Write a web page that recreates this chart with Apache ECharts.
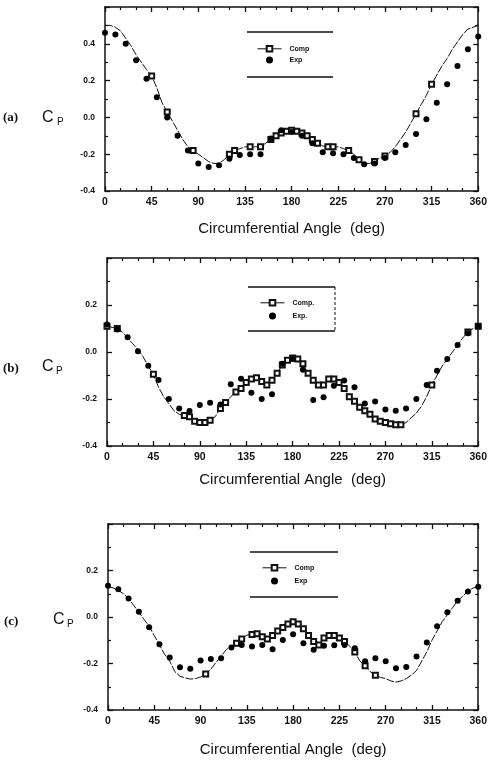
<!DOCTYPE html>
<html>
<head>
<meta charset="utf-8">
<script src="https://cdn.jsdelivr.net/npm/echarts@6/dist/echarts.min.js"></script>
<style>
  html, body { margin: 0; padding: 0; background: #fff; }
  #chart { width: 490px; height: 766px; }
</style>
</head>
<body>
<div id="chart"></div>
<script>
// Angles (deg)
const expAngles = [0, 10, 20, 30, 40, 50, 60, 70, 80, 90, 100, 110, 120, 130, 140, 150, 160, 170, 180,
    190, 200, 210, 220, 230, 240, 250, 260, 270, 280, 290, 300, 310, 320, 330, 340, 350, 360];
const compAngles = [0, 5, 10, 15, 20, 25, 30, 35, 40, 45, 50, 55, 60, 65, 70, 75, 80, 85, 90, 95, 100,
    105, 110, 115, 120, 125, 130, 135, 140, 145, 150, 155, 160, 165, 170, 175, 180, 185, 190, 195, 200,
    205, 210, 215, 220, 225, 230, 235, 240, 245, 250, 255, 260, 265, 270, 275, 280, 285, 290, 295, 300,
    305, 310, 315, 320, 325, 330, 335, 340, 345, 350, 355, 360];
const xTickValues = [0, 45, 90, 135, 180, 225, 270, 315, 360];
const yTickValuesA = [-0.4, -0.2, 0, 0.2, 0.4];
const yTickValuesBC = [-0.4, -0.2, 0, 0.2];

// (a)
const expA = [0.46, 0.45, 0.40, 0.31, 0.21, 0.11, 0.00, -0.10, -0.18, -0.25, -0.27, -0.26, -0.225, -0.205,
    -0.20, -0.20, -0.115, -0.07, -0.08, -0.10, -0.14, -0.19, -0.195, -0.20, -0.22, -0.255, -0.25, -0.22,
    -0.19, -0.15, -0.09, -0.01, 0.08, 0.18, 0.28, 0.37, 0.44];
const compA = [0.50, 0.50, 0.49, 0.47, 0.43, 0.39, 0.34, 0.30, 0.26, 0.225, 0.16, 0.08, 0.03, -0.02, -0.07,
    -0.12, -0.16, -0.18, -0.20, -0.22, -0.24, -0.25, -0.25, -0.23, -0.20, -0.18, -0.17, -0.16, -0.16, -0.16,
    -0.16, -0.14, -0.12, -0.10, -0.085, -0.075, -0.07, -0.075, -0.085, -0.10, -0.12, -0.14, -0.155, -0.16,
    -0.16, -0.16, -0.17, -0.18, -0.20, -0.23, -0.25, -0.25, -0.24, -0.22, -0.21, -0.19, -0.16, -0.12, -0.08,
    -0.03, 0.02, 0.07, 0.12, 0.18, 0.23, 0.28, 0.32, 0.37, 0.41, 0.45, 0.48, 0.49, 0.50];
const marksA = [45, 60, 85, 120, 125, 140, 150, 160, 165, 170, 175, 180, 185, 190, 195, 200, 205, 215,
    220, 235, 245, 260, 270, 300, 315];

// (b)
const expB = [0.117, 0.096, 0.063, 0.003, -0.059, -0.119, -0.20, -0.24, -0.251, -0.226, -0.216, -0.223,
    -0.137, -0.114, -0.173, -0.20, -0.18, -0.05, -0.03, -0.076, -0.204, -0.193, -0.144, -0.121, -0.15,
    -0.219, -0.211, -0.245, -0.25, -0.24, -0.20, -0.14, -0.08, -0.03, 0.03, 0.08, 0.11];
const compB = [0.11, 0.105, 0.10, 0.085, 0.06, 0.035, 0.01, -0.02, -0.06, -0.095, -0.15, -0.19, -0.22,
    -0.25, -0.265, -0.27, -0.275, -0.295, -0.30, -0.30, -0.29, -0.275, -0.24, -0.215, -0.19, -0.17, -0.155,
    -0.13, -0.115, -0.11, -0.125, -0.14, -0.12, -0.09, -0.055, -0.035, -0.025, -0.03, -0.05, -0.09, -0.12,
    -0.14, -0.14, -0.115, -0.115, -0.13, -0.155, -0.19, -0.21, -0.235, -0.25, -0.265, -0.285, -0.295,
    -0.30, -0.305, -0.31, -0.31, -0.30, -0.28, -0.26, -0.23, -0.19, -0.14, -0.10, -0.06, -0.03, 0.00, 0.03,
    0.06, 0.085, 0.10, 0.11];
const marksB = [0, 10, 45, 75, 80, 85, 90, 95, 100, 110, 115, 125, 130, 135, 140, 145, 150, 155, 160, 165,
    170, 175, 180, 185, 190, 195, 200, 205, 210, 215, 220, 225, 230, 235, 240, 245, 250, 255, 260, 265,
    270, 275, 280, 285, 315, 350, 360];

// (c)
const expC = [0.134, 0.119, 0.08, 0.023, -0.044, -0.117, -0.174, -0.216, -0.223, -0.187, -0.181, -0.177,
    -0.131, -0.12, -0.127, -0.12, -0.139, -0.099, -0.074, -0.113, -0.141, -0.124, -0.121, -0.12, -0.134,
    -0.19, -0.177, -0.19, -0.22, -0.215, -0.17, -0.11, -0.04, 0.02, 0.07, 0.11, 0.13];
const compC = [0.13, 0.125, 0.115, 0.10, 0.08, 0.05, 0.02, -0.01, -0.04, -0.08, -0.12, -0.16, -0.19,
    -0.235, -0.255, -0.262, -0.267, -0.265, -0.258, -0.245, -0.225, -0.195, -0.17, -0.14, -0.125, -0.113,
    -0.095, -0.078, -0.075, -0.072, -0.085, -0.095, -0.08, -0.06, -0.045, -0.03, -0.02, -0.03, -0.05,
    -0.08, -0.105, -0.12, -0.09, -0.08, -0.08, -0.09, -0.105, -0.125, -0.15, -0.19, -0.21, -0.235, -0.25,
    -0.26, -0.265, -0.275, -0.28, -0.275, -0.265, -0.25, -0.23, -0.19, -0.15, -0.10, -0.06, -0.02, 0.01,
    0.04, 0.07, 0.09, 0.11, 0.125, 0.13];
const marksC = [95, 125, 130, 140, 145, 150, 155, 160, 165, 170, 175, 180, 185, 190, 195, 200, 205, 210,
    215, 220, 225, 230, 240, 250, 260];

const INK = '#111';
const SANS = 'Liberation Sans, Arial, sans-serif';

const grids = [
    { left: 105, top: 7, width: 378, height: 184 },
    { left: 107, top: 258, width: 376, height: 188 },
    { left: 108, top: 524, width: 378, height: 186 },
];

function xAxes(idx, nameGap) {
    const base = {
        gridIndex: idx, type: 'value', min: 0, max: 360, interval: 45,
        axisLine: { onZero: false, lineStyle: { color: INK, width: 1.5 } },
        axisTick: { inside: true, length: 5, lineStyle: { color: INK, width: 1.3 } },
        minorTick: { show: true, splitNumber: 3, length: 3, lineStyle: { color: INK, width: 1.2 } },
        splitLine: { show: false },
    };
    return [
        {
            ...base, position: 'bottom',
            axisLabel: { customValues: xTickValues, margin: 6, fontSize: 10.5, fontWeight: 'bold', color: INK, fontFamily: SANS },
            name: 'Circumferential Angle  (deg)', nameLocation: 'middle', nameGap,
            nameTextStyle: { fontSize: 15, color: INK, fontFamily: SANS },
        },
        { ...base, position: 'top', axisLabel: { show: false } },
    ];
}

function yAxes(idx, min, max, labels) {
    const base = {
        gridIndex: idx, type: 'value', min, max, interval: 0.2,
        axisLine: { onZero: false, lineStyle: { color: INK, width: 1.5 } },
        axisTick: { inside: true, length: 5, lineStyle: { color: INK, width: 1.3 } },
        minorTick: { show: true, splitNumber: 2, length: 3, lineStyle: { color: INK, width: 1.2 } },
        splitLine: { show: false },
    };
    return [
        {
            ...base, position: 'left',
            axisLabel: { customValues: labels, margin: 10, fontSize: 8.5, fontWeight: 'bold', color: INK, fontFamily: SANS,
                formatter: v => v.toFixed(1) },
        },
        { ...base, position: 'right', axisLabel: { show: false } },
    ];
}

function compSeries(name, values, marks, idx) {
    return {
        name, type: 'line', xAxisIndex: 2 * idx, yAxisIndex: 2 * idx,
        symbol: 'emptyRect', symbolSize: 5, showAllSymbol: true,
        itemStyle: { color: INK, borderColor: INK, borderWidth: 1 },
        lineStyle: { width: 1, type: [8, 1.5], color: INK },
        data: compAngles.map((a, i) => marks.includes(a) ? [a, values[i]] : { value: [a, values[i]], symbol: 'none' }),
        z: 2,
    };
}

function expSeries(name, values, idx) {
    return {
        name, type: 'scatter', xAxisIndex: 2 * idx, yAxisIndex: 2 * idx,
        symbol: 'circle', symbolSize: 6,
        itemStyle: { color: '#000', opacity: 1 },
        data: expAngles.map((a, i) => [a, values[i]]),
        z: 3,
    };
}

function legendBox(names, left, top, gap) {
    return {
        data: names, orient: 'vertical', left, top, padding: 0,
        itemWidth: 24, itemHeight: 7, itemGap: gap, selectedMode: false,
        lineStyle: { type: 'solid', width: 1 },
        itemStyle: { borderWidth: 1 },
        textStyle: { fontSize: 7, fontWeight: 'bold', color: INK, fontFamily: SANS, padding: [0, 0, 0, 3] },
    };
}

function hLine(x1, x2, y) {
    return { type: 'line', shape: { x1, y1: y, x2, y2: y }, style: { stroke: INK, lineWidth: 1.3 } };
}

function label(text, x, y, size, font, weight) {
    return {
        type: 'text', x, y,
        style: { text, fontSize: size, fontFamily: font, fontWeight: weight || 'normal', fill: INK, verticalAlign: 'middle' },
    };
}

const chart = echarts.init(document.getElementById('chart'), null, { renderer: 'canvas' });

chart.setOption({
    animation: false,
    backgroundColor: '#fff',
    grid: grids,
    xAxis: [...xAxes(0, 30), ...xAxes(1, 26), ...xAxes(2, 32)],
    yAxis: [...yAxes(0, -0.4, 0.6, yTickValuesA), ...yAxes(1, -0.4, 0.4, yTickValuesBC), ...yAxes(2, -0.4, 0.4, yTickValuesBC)],
    legend: [
        legendBox(['Comp', 'Exp'], 257, 45, 4),
        legendBox(['Comp.', 'Exp.'], 260, 299, 6),
        legendBox(['Comp', 'Exp'], 262, 564, 6),
    ],
    series: [
        compSeries('Comp', compA, marksA, 0),
        expSeries('Exp', expA, 0),
        compSeries('Comp.', compB, marksB, 1),
        expSeries('Exp.', expB, 1),
        compSeries('Comp', compC, marksC, 2),
        expSeries('Exp', expC, 2),
    ],
    graphic: [
        // legend frames
        hLine(247, 333, 32), hLine(247, 333, 77),
        hLine(248, 335, 287), hLine(248, 335, 331),
        { type: 'line', shape: { x1: 335, y1: 287, x2: 335, y2: 331 }, style: { stroke: INK, lineWidth: 1, lineDash: [3, 2] } },
        hLine(250, 338, 552), hLine(250, 338, 597),
        // panel tags and C_P labels
        label('(a)', 3, 118, 13, 'Liberation Serif, serif', 'bold'),
        label('C', 42, 118, 16, SANS), label('P', 57, 122, 10, SANS),
        label('(b)', 3, 369, 13, 'Liberation Serif, serif', 'bold'),
        label('C', 42, 367, 16, SANS), label('P', 56, 371, 10, SANS),
        label('(c)', 4, 622, 13, 'Liberation Serif, serif', 'bold'),
        label('C', 53, 620, 16, SANS), label('P', 67, 624, 10, SANS),
    ],
});
</script>
</body>
</html>
